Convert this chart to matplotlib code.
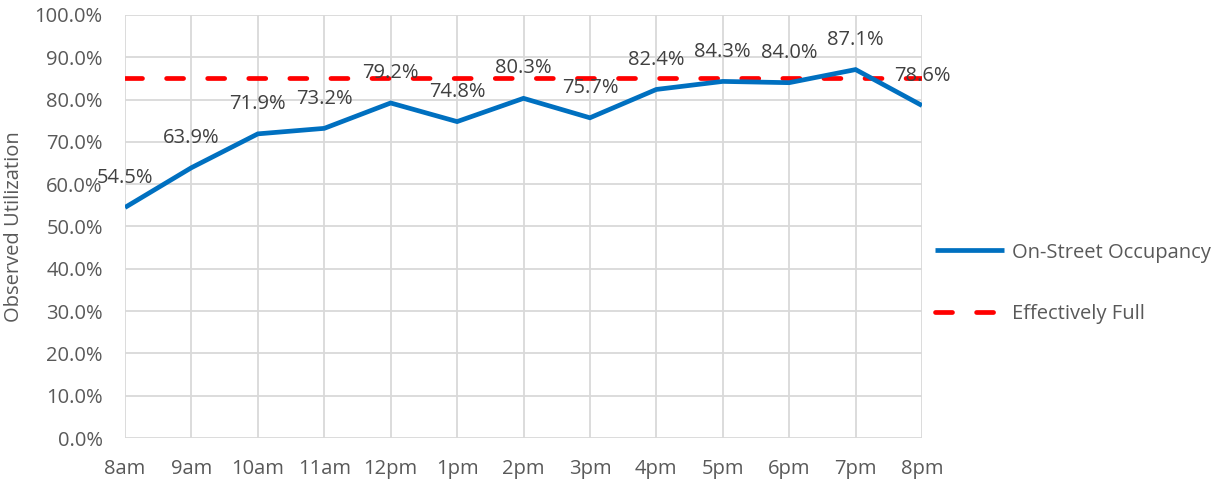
import matplotlib
matplotlib.use("Agg")
import matplotlib.pyplot as plt
from matplotlib.ticker import FuncFormatter, MultipleLocator

hours = ["8am", "9am", "10am", "11am", "12pm", "1pm", "2pm", "3pm", "4pm", "5pm", "6pm", "7pm", "8pm"]
occupancy = [54.5, 63.9, 71.9, 73.2, 79.2, 74.8, 80.3, 75.7, 82.4, 84.3, 84.0, 87.1, 78.6]
full = [85.0] * len(hours)

plt.rcParams['font.family'] = ['Open Sans', 'DejaVu Sans']
FS = 14.5

fig = plt.figure(figsize=(12.3, 4.84), dpi=100)
ax = fig.add_axes([125/1230, 1-438/484, (922-125)/1230, (438-15)/484])

x = list(range(len(hours)))
ax.plot(x, occupancy, color="#0070C0", lw=3.4, solid_capstyle="butt", solid_joinstyle="miter",
        label="On-Street Occupancy", zorder=3)
ax.plot(x, full, color="#FF0000", lw=3.4, dashes=(3.6, 5.1), dash_capstyle="round",
        label="Effectively Full", zorder=2)

for xi, v in zip(x, occupancy):
    ax.annotate(f"{v:.1f}%", (xi, v), xytext=(0, 21.5), textcoords="offset points",
                ha="center", va="center", fontsize=FS, color="#404040", zorder=4)

ax.set_xlim(0, len(hours) - 1)
ax.set_ylim(0, 100)
ax.yaxis.set_major_locator(MultipleLocator(10))
ax.yaxis.set_major_formatter(FuncFormatter(lambda v, p: f"{v:.1f}%"))
ax.set_xticks(x)
ax.set_xticklabels(hours)
ax.grid(True, color="#D9D9D9", lw=1.3)
ax.set_axisbelow(True)
for s in ax.spines.values():
    s.set_visible(False)
ax.tick_params(length=0, labelsize=FS, colors="#595959")
ax.tick_params(axis="y", pad=16)
ax.tick_params(axis="x", pad=15)
ax.set_ylabel("Observed Utilization", fontsize=FS, color="#595959", labelpad=8)

leg = ax.legend(loc="center left", bbox_to_anchor=(0.994, 0.366), frameon=False,
                fontsize=FS, labelcolor="#595959", handlelength=3.4, handletextpad=0.4,
                labelspacing=2.05)

fig.savefig("out.png", dpi=100)
